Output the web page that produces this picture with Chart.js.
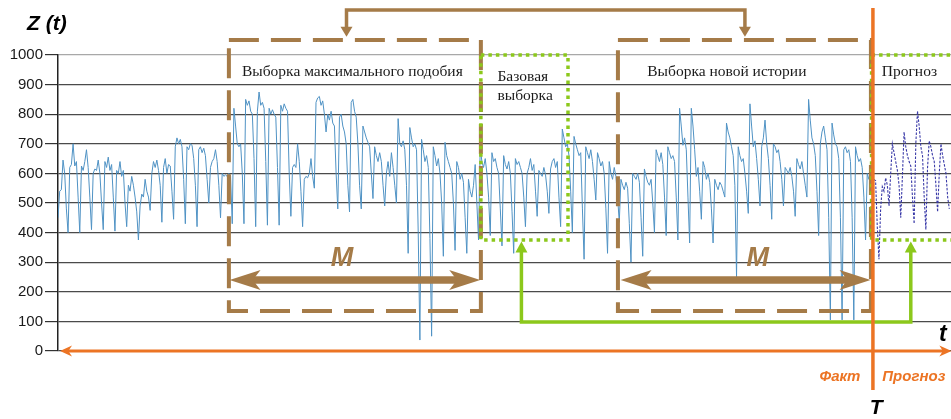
<!DOCTYPE html>
<html><head><meta charset="utf-8">
<script src="https://cdn.jsdelivr.net/npm/chart.js@4.4.1/dist/chart.umd.min.js"></script>
<style>html,body{margin:0;padding:0;background:#fff;overflow:hidden}#wrap{width:951px;height:419px}</style>
</head><body><div id="wrap"><canvas id="c" width="951" height="419"></canvas></div>
<script>
// ---------- DATA ----------
const yTicks = [0, 100, 200, 300, 400, 500, 600, 700, 800, 900, 1000];
// Fact series Z(t), one row per 7-step cycle
const factValues = [
450,540,545,645,600,480,400, 620,630,700,625,640,520,400, 625,610,640,680,620,520,410,
600,615,610,645,600,500,410, 640,620,655,610,630,520,405, 610,600,640,590,610,500,420,
560,540,590,560,520,470,375, 490,530,520,580,540,520,475, 600,640,620,645,610,560,435,
620,650,600,630,625,540,445, 690,720,700,715,690,580,430, 690,680,700,695,650,560,420,
680,690,670,685,660,580,500, 620,640,650,680,640,560,450, 600,590,595,590,600,590,430,
820,760,700,690,700,600,430, 850,830,845,810,800,650,420, 810,875,830,840,820,640,425,
820,800,815,800,790,620,425, 830,810,835,820,810,600,455, 620,630,620,700,640,540,420,
580,590,585,600,650,590,550, 840,855,860,830,845,800,740, 800,780,810,770,760,600,480,
790,800,760,740,700,560,470, 840,850,810,790,700,560,480, 760,740,720,705,690,600,515,
690,660,640,670,640,560,490, 600,640,590,670,620,560,500, 785,700,690,710,680,560,330,
755,720,690,700,680,400,37,  715,680,640,660,620,380,50,  690,660,625,650,600,500,320,
705,660,640,620,600,500,340, 640,620,580,600,570,450,330, 580,540,520,560,630,500,375,
690,640,620,650,600,520,390, 670,640,650,620,600,480,355, 660,630,615,640,600,470,330,
650,630,640,620,600,520,420, 600,620,650,610,630,540,455, 610,600,590,620,595,540,465,
615,640,650,620,640,520,420, 750,720,690,700,660,540,400, 725,700,680,660,670,480,310,
690,670,650,680,640,580,510, 670,650,625,640,600,480,330, 640,600,580,620,590,520,435,
580,560,545,570,550,430,300, 600,590,580,600,570,450,320, 615,590,570,560,580,500,400,
680,660,640,670,630,520,390, 690,670,650,660,640,520,375, 820,760,695,720,680,520,365,
820,760,680,590,620,540,445, 640,620,580,600,570,480,365, 580,560,545,570,560,540,520,
770,740,720,690,660,560,250, 690,660,640,650,600,540,465, 835,760,690,710,650,580,490,
690,720,780,700,650,560,445, 700,690,670,680,640,580,490, 620,610,600,620,590,540,455,
650,630,615,640,600,560,520, 850,780,720,700,660,540,390, 700,740,760,720,680,450,105,
770,730,700,690,650,450,105, 680,690,670,680,640,450,105, 690,660,640,650,620,520,375,
600,580,590,560,580
];
const forecastStart = 487;
const forecastValues = [
580,575,420,310,480,555,540,585,560,490,600,700,670,640,610,560,450,590,740,690,
660,640,625,520,430,700,810,760,690,660,520,410,620,710,690,660,640,560,470,600,
700,660,630,600,520,480
];
const textLabels = {
  maxSample: 'Выборка максимального подобия',
  base1: 'Базовая', base2: 'выборка',
  newHistory: 'Выборка новой истории',
  forecastBox: 'Прогноз',
  fact: 'Факт', forecast: 'Прогноз',
  M: 'M', T: 'T', t: 't', title: 'Z (t)'
};

// ---------- ANNOTATION GEOMETRY (in axis units: x = step index, y = Z value) ----------
const ann = {
  boxMax:  {x0: 102.0, x1: 252.4, y0: 1051, y1: 135},
  boxNew:  {x0: 334.2, x1: 485.2, y0: 1051, y1: 135},
  boxBase: {x0: 252.4, x1: 304.4, y0: 1000, y1: 375},
  boxFc:   {x0: 485.6, x1: 540,   y0: 1000, y1: 375},
  topLink: {xa: 172.2, xb: 410.0, yTop: 1152, yTip: 1062},
  greenLink: {xa: 276.6, xb: 509.0, yLow: 98, yTip: 370},
  arrowM1: {x0: 102.4, x1: 252.0, y: 240},
  arrowM2: {x0: 335.8, x1: 485.0, y: 240},
  labelM1: {x: 169.5, y: 314}, labelM2: {x: 417.7, y: 314},
  tLine: {x: 486.4, y0: 1159, y1: -132},
  timeAxis: {x0: 1.2, x1: 533.2, y: 0}
};

const BROWN = '#a57b48', GREEN = '#8cc81c', ORANGE = '#ec7424';

function head(ctx, tx, ty, dx, dy, len, hw, color, notch) {
  const px = -dy, py = dx;
  const bx = tx - dx * len, by = ty - dy * len;
  ctx.save(); ctx.fillStyle = color; ctx.setLineDash([]);
  ctx.beginPath();
  ctx.moveTo(tx, ty);
  ctx.lineTo(bx + px * hw, by + py * hw);
  ctx.lineTo(tx - dx * len * (1 - (notch || 0)), ty - dy * len * (1 - (notch || 0)));
  ctx.lineTo(bx - px * hw, by - py * hw);
  ctx.closePath(); ctx.fill(); ctx.restore();
}

const annotPlugin = {
  id: 'annot',
  afterDraw(chart) {
    const ctx = chart.ctx, xs = chart.scales.x, ys = chart.scales.y;
    const X = v => xs.getPixelForValue(v), Y = v => ys.getPixelForValue(v);
    ctx.save();
    ctx.lineCap = 'butt'; ctx.lineJoin = 'miter';
    function dashedBox(b, color, lw, dash) {
      ctx.save(); ctx.strokeStyle = color; ctx.lineWidth = lw; ctx.setLineDash(dash);
      ctx.beginPath();
      ctx.moveTo(X(b.x0), Y(b.y0)); ctx.lineTo(X(b.x1), Y(b.y0));
      ctx.lineTo(X(b.x1), Y(b.y1)); ctx.lineTo(X(b.x0), Y(b.y1)); ctx.closePath();
      ctx.stroke(); ctx.restore();
    }
    dashedBox(ann.boxMax, BROWN, 4, [30, 12]);
    dashedBox(ann.boxNew, BROWN, 4, [30, 12]);

    const tl = ann.topLink;
    ctx.save(); ctx.strokeStyle = BROWN; ctx.lineWidth = 3.5; ctx.setLineDash([]);
    ctx.beginPath();
    ctx.moveTo(X(tl.xa), Y(tl.yTip) - 8); ctx.lineTo(X(tl.xa), Y(tl.yTop));
    ctx.lineTo(X(tl.xb), Y(tl.yTop)); ctx.lineTo(X(tl.xb), Y(tl.yTip) - 8);
    ctx.stroke(); ctx.restore();
    head(ctx, X(tl.xa), Y(tl.yTip), 0, 1, 10, 6, BROWN);
    head(ctx, X(tl.xb), Y(tl.yTip), 0, 1, 10, 6, BROWN);

    [ann.arrowM1, ann.arrowM2].forEach(a => {
      const x0 = X(a.x0), x1 = X(a.x1), y = Y(a.y);
      ctx.save(); ctx.strokeStyle = BROWN; ctx.lineWidth = 7.5; ctx.setLineDash([]);
      ctx.beginPath(); ctx.moveTo(x0 + 20, y); ctx.lineTo(x1 - 20, y); ctx.stroke(); ctx.restore();
      head(ctx, x0, y, -1, 0, 31, 10, BROWN, 0.25);
      head(ctx, x1, y, 1, 0, 31, 10, BROWN, 0.25);
    });
    ctx.save(); ctx.fillStyle = BROWN; ctx.font = 'italic bold 27px "Liberation Sans", Arial, sans-serif';
    ctx.textAlign = 'center'; ctx.textBaseline = 'middle';
    ctx.fillText(textLabels.M, X(ann.labelM1.x), Y(ann.labelM1.y));
    ctx.fillText(textLabels.M, X(ann.labelM2.x), Y(ann.labelM2.y));
    ctx.restore();

    const gl = ann.greenLink;
    ctx.save(); ctx.strokeStyle = GREEN; ctx.lineWidth = 3.5; ctx.setLineDash([]);
    ctx.beginPath();
    ctx.moveTo(X(gl.xa), Y(gl.yTip) + 9); ctx.lineTo(X(gl.xa), Y(gl.yLow));
    ctx.lineTo(X(gl.xb), Y(gl.yLow)); ctx.lineTo(X(gl.xb), Y(gl.yTip) + 9);
    ctx.stroke(); ctx.restore();
    head(ctx, X(gl.xa), Y(gl.yTip), 0, -1, 11, 6, GREEN);
    head(ctx, X(gl.xb), Y(gl.yTip), 0, -1, 11, 6, GREEN);

    dashedBox(ann.boxBase, GREEN, 3.5, [3.5, 4]);
    dashedBox(ann.boxFc, GREEN, 3.5, [3.5, 4]);

    ctx.save(); ctx.fillStyle = '#1a1a1a'; ctx.font = '15.5px "Liberation Serif", "Times New Roman", serif';
    ctx.textAlign = 'left'; ctx.textBaseline = 'middle';
    ctx.fillText(textLabels.maxSample, X(109.8), Y(942.6));
    ctx.fillText(textLabels.base1, X(262.3), Y(925.7));
    ctx.fillText(textLabels.base2, X(262.3), Y(861.5));
    ctx.fillText(textLabels.newHistory, X(351.7), Y(942.6));
    ctx.fillText(textLabels.forecastBox, X(491.7), Y(942.6));
    ctx.restore();

    const ta = ann.timeAxis;
    ctx.save(); ctx.strokeStyle = ORANGE; ctx.lineWidth = 3; ctx.setLineDash([]);
    ctx.beginPath(); ctx.moveTo(X(ta.x0) + 6, Y(ta.y)); ctx.lineTo(X(ta.x1) - 6, Y(ta.y)); ctx.stroke(); ctx.restore();
    head(ctx, X(ta.x0), Y(ta.y), -1, 0, 12, 5.5, ORANGE, 0.3);
    head(ctx, X(ta.x1), Y(ta.y), 1, 0, 12, 5.5, ORANGE, 0.3);

    ctx.save(); ctx.strokeStyle = ORANGE; ctx.lineWidth = 3.5; ctx.setLineDash([]);
    ctx.beginPath(); ctx.moveTo(X(ann.tLine.x), Y(ann.tLine.y0)); ctx.lineTo(X(ann.tLine.x), Y(ann.tLine.y1)); ctx.stroke();
    ctx.restore();

    ctx.save(); ctx.fillStyle = ORANGE; ctx.font = 'italic bold 15px "Liberation Sans", Arial, sans-serif';
    ctx.textAlign = 'center'; ctx.textBaseline = 'middle';
    ctx.fillText(textLabels.fact, X(466.7), Y(-88));
    ctx.fillText(textLabels.forecast, X(510.8), Y(-88));
    ctx.fillStyle = '#000'; ctx.font = 'italic bold 21px "Liberation Sans", Arial, sans-serif';
    ctx.fillText(textLabels.T, X(488.4), Y(-193));
    ctx.font = 'italic bold 23px "Liberation Sans", Arial, sans-serif';
    ctx.fillText(textLabels.t, X(528.1), Y(54));
    ctx.textAlign = 'left';
    ctx.font = 'italic bold 21px "Liberation Sans", Arial, sans-serif';
    ctx.fillText(textLabels.title, X(-18.5), Y(1105));
    ctx.restore();
    ctx.restore();
  }
};

new Chart(document.getElementById('c'), {
  type: 'line',
  data: {
    datasets: [
      {
        data: factValues.map((v, i) => ({x: i, y: v})),
        borderColor: '#4f92c4', borderWidth: 1, pointRadius: 0, tension: 0, fill: false
      },
      {
        data: forecastValues.map((v, i) => ({x: forecastStart + i, y: v})),
        borderColor: '#3a3aa8', borderWidth: 1.1, borderDash: [2.5, 1.5], pointRadius: 0, tension: 0, fill: false
      }
    ]
  },
  options: {
    responsive: false, animation: false, devicePixelRatio: 1,
    layout: {padding: {top: 55, bottom: 68, left: 0, right: 0}},
    plugins: {legend: {display: false}, tooltip: {enabled: false}},
    scales: {
      x: {type: 'linear', min: 0, max: 533, display: false},
      y: {
        min: 0, max: 1000,
        afterFit: s => { s.width = 58; },
        afterBuildTicks: s => { s.ticks = yTicks.map(v => ({value: v})); },
        ticks: {stepSize: 100, autoSkip: false, padding: 2, color: '#1a1a1a',
                callback: v => String(v),
                font: {family: '"Liberation Sans", Arial, sans-serif', size: 15}},
        grid: {
          color: c => (c.tick && c.tick.value === 1000) ? '#a8a8a8' : '#4a4a4a',
          tickColor: '#333', lineWidth: 1.2, tickLength: 13, drawTicks: true
        },
        border: {display: true, color: '#222', width: 1.5}
      }
    }
  },
  plugins: [annotPlugin]
});
</script>
</body></html>
